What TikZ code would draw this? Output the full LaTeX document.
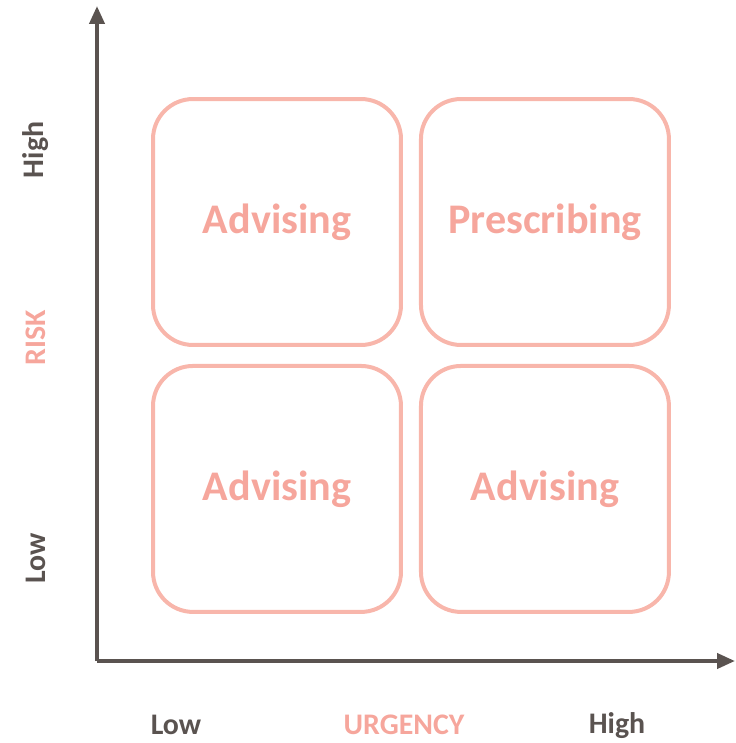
\documentclass[tikz,border=0pt]{standalone}
\usepackage{fontspec}
\setmainfont{Carlito}
\usepackage{xcolor}
\usepackage{tikz}
\usetikzlibrary{arrows.meta, positioning}

\definecolor{boxpink}{HTML}{F8B6AB}
\definecolor{textpink}{HTML}{F6A69C}
\definecolor{axisgray}{HTML}{5A5350}

\begin{document}
\begin{tikzpicture}[
  x=0.02cm, y=-0.02cm,
  font=\bfseries,
  node distance=0.34cm and 0.32cm,
  quadbox/.style={
    draw=boxpink,
    line width=0.08cm,
    rounded corners=0.8cm,
    minimum width=4.96cm,
    minimum height=4.92cm,
    text=textpink,
    font=\fontsize{24}{28}\bfseries\selectfont
  },
  axis/.style={draw=axisgray, line width=0.08cm, -{Triangle[length=0.36cm, width=0.3cm]}},
  axislabel/.style={text=axisgray, font=\fontsize{17}{20}\bfseries\selectfont},
  axistitle/.style={text=textpink, font=\fontsize{17}{20}\bfseries\selectfont}
]
\useasboundingbox (0,0) rectangle (735,743);

% Quadrants
\node[quadbox] (topleft) at (277,222) {Advising};
\node[quadbox, right=of topleft] (topright) {Prescribing};
\node[quadbox, below=of topleft] (botleft) {Advising};
\node[quadbox, below=of topright] (botright) {Advising};

% Axes
\coordinate (origin) at (97,661);
\coordinate (ytip) at (97,6);
\coordinate (xtip) at (735,661);
\draw[axis] (origin) -- (ytip);
\draw[axis] (origin) -- (xtip);

% Labels
\node[axislabel, rotate=90] (yhigh) at (36,150) {High};
\node[axistitle, rotate=90] (ytitle) at (36,338) {RISK};
\node[axislabel, rotate=90] (ylow) at (36,558) {Low};
\node[axislabel] (xlow) at (176,725) {Low};
\node[axistitle] (xtitle) at (404,725) {URGENCY};
\node[axislabel] (xhigh) at (617,726) {High};

\end{tikzpicture}
\end{document}
